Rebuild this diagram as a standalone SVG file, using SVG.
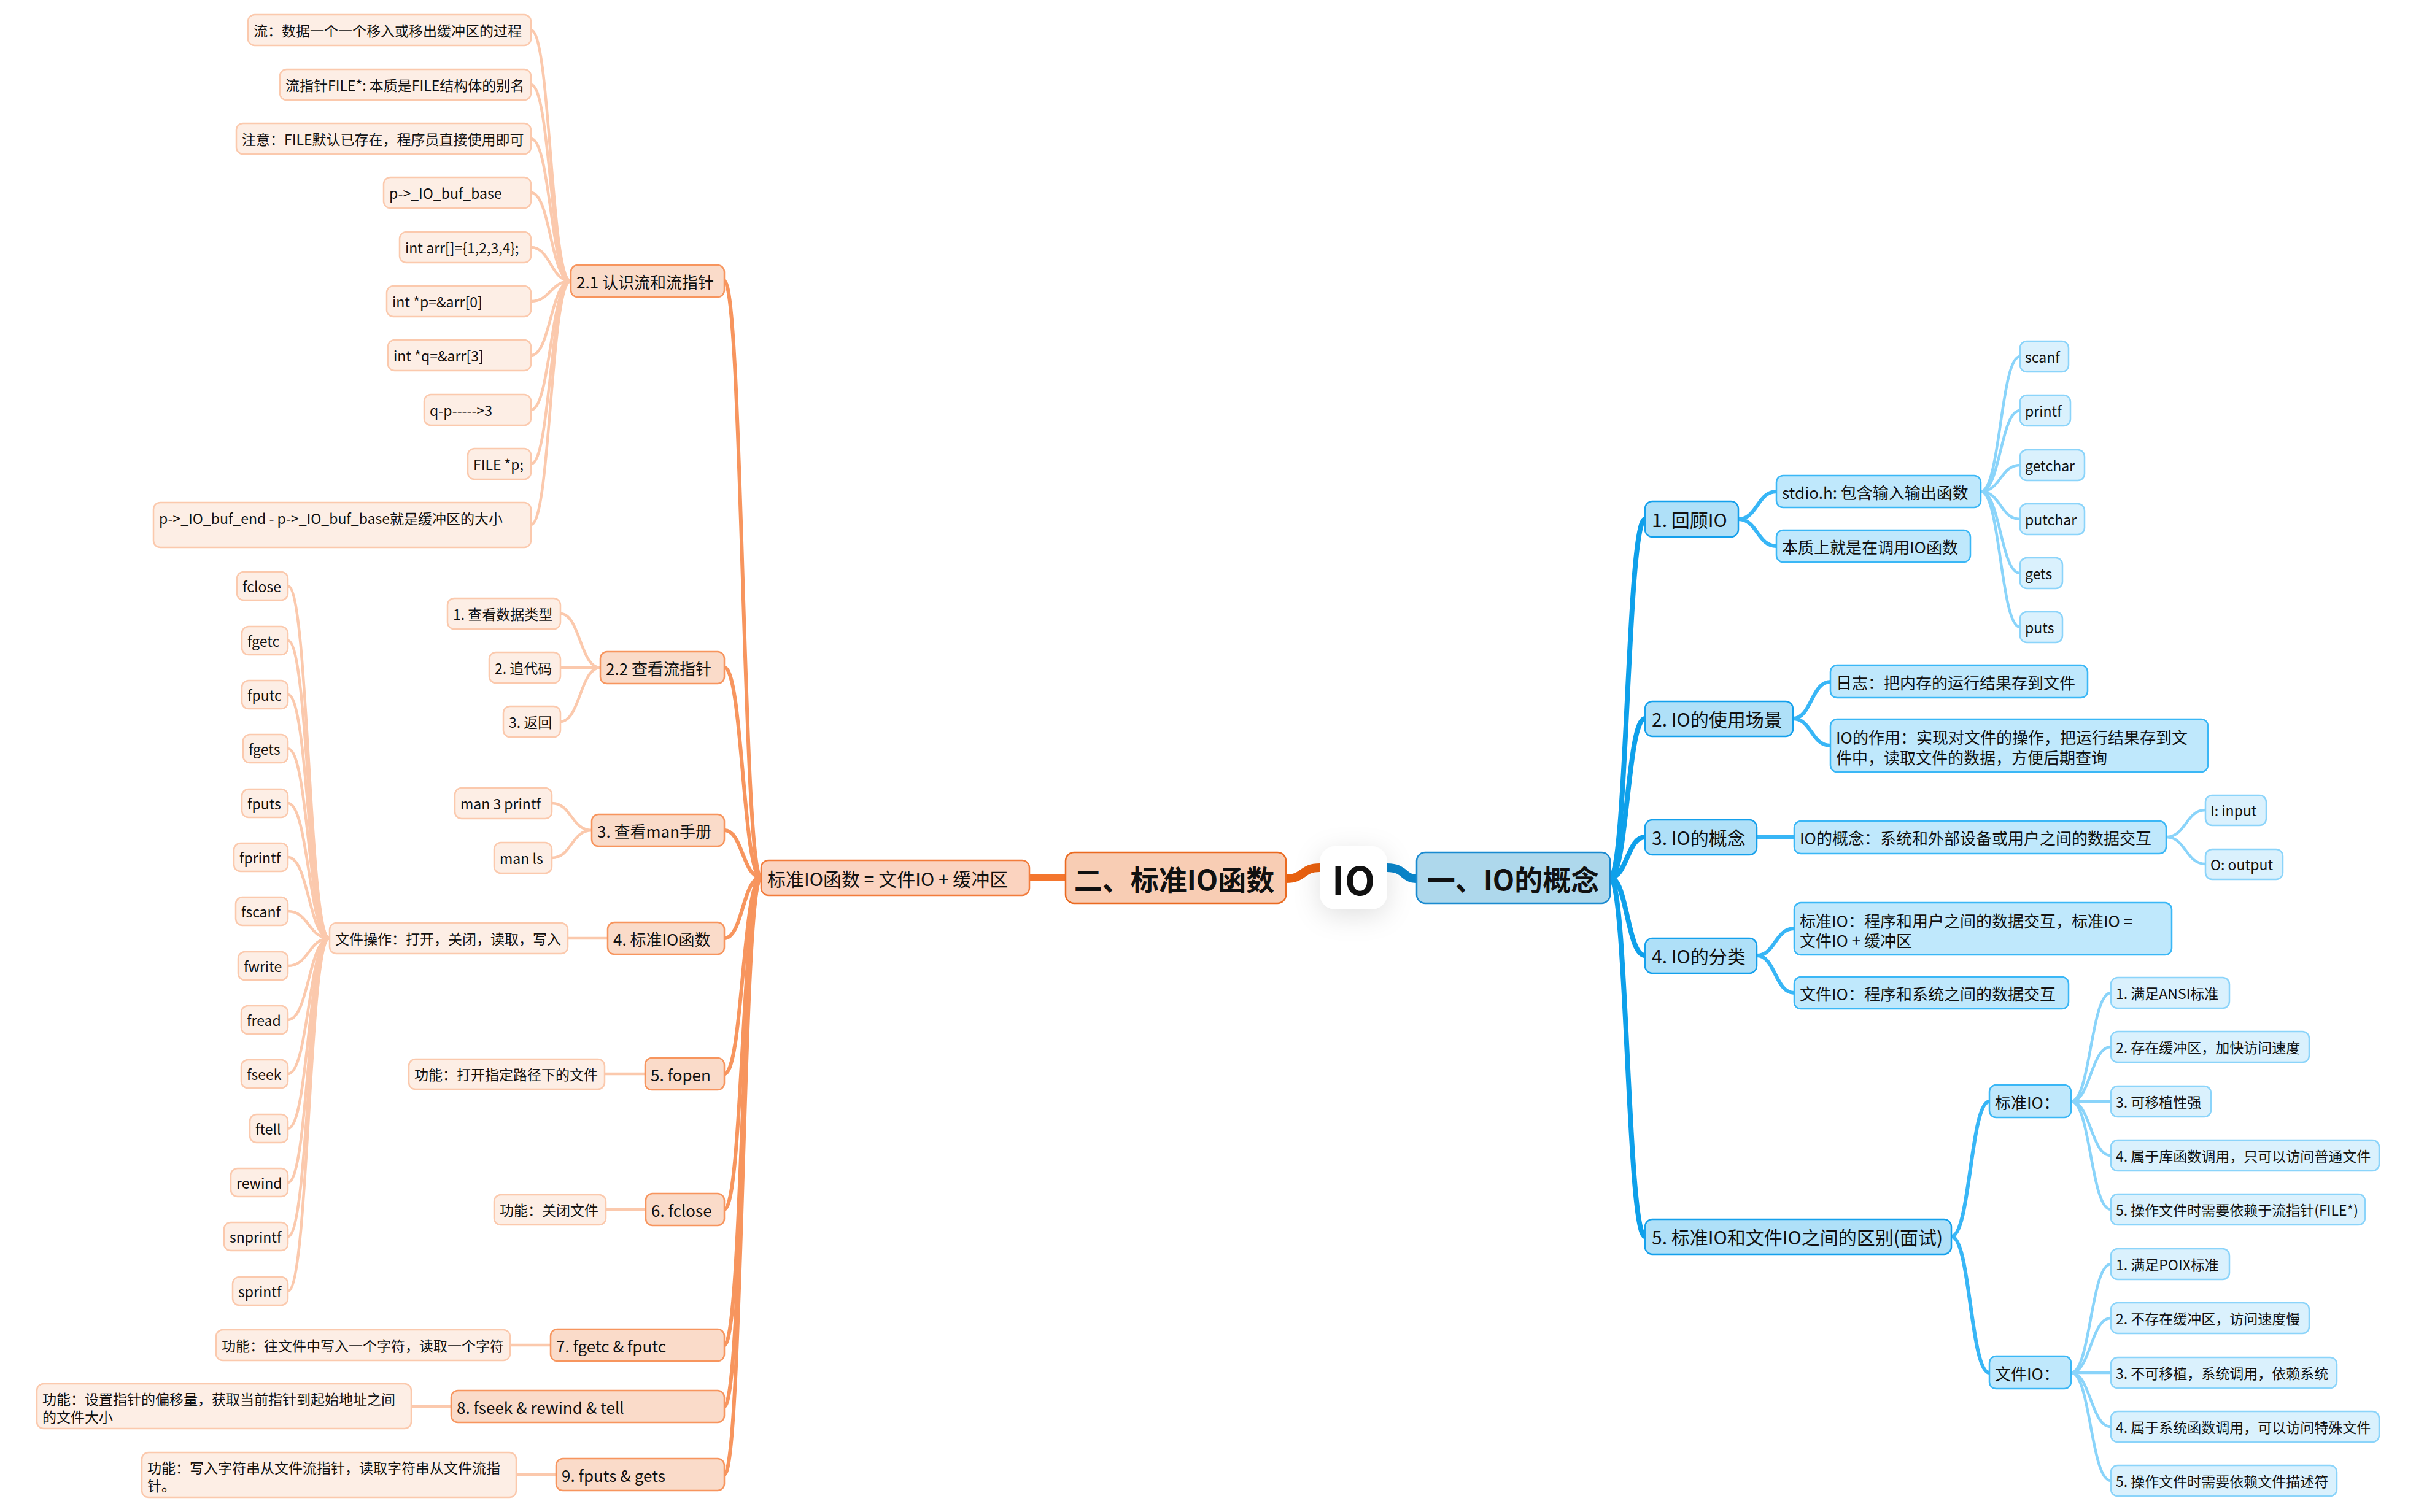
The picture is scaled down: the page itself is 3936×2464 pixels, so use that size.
<svg xmlns="http://www.w3.org/2000/svg" width="3936" height="2464" viewBox="0 0 3936 2464">
<style>
text{font-family:"Noto Sans CJK SC","Noto Sans",sans-serif;fill:#111;dominant-baseline:central}
rect{stroke-width:2.5}
.t1{font-size:46px;font-weight:bold;text-anchor:middle}
.t0{font-size:64px;font-weight:bold;text-anchor:middle}
.t2{font-size:30px}
.t3{font-size:26px}
.t4{font-size:23px}
.l1o{fill:#F8CDB4;stroke:#EA6A20}
.l1b{fill:#AED8EC;stroke:#1A8AD0}
.l2o{fill:#FBD3BF;stroke:#F27C3C}
.l3o{fill:#FADBC9;stroke:#F7955E}
.l4o{fill:#FDEEE5;stroke:#FBC9AD}
.l2b{fill:#AFE0F8;stroke:#14A0EC}
.l3b{fill:#BFE8FC;stroke:#3AB7F6}
.l4b{fill:#DAF1FD;stroke:#8BD4FA}
path{fill:none;stroke-linecap:round}
.c2o{stroke:#F7955E;stroke-width:6}
.c3o{stroke:#FBC9AD;stroke-width:4.5}
.c1b{stroke:#0EA0EA;stroke-width:8}
.c2b{stroke:#38B6F6;stroke-width:6}
.c3b{stroke:#8AD4FA;stroke-width:4.5}
</style>
<defs>
<filter id="sh" x="-100%" y="-100%" width="300%" height="300%">
<feDropShadow dx="0" dy="10" stdDeviation="22" flood-color="#000" flood-opacity="0.12"/>
</filter>
</defs>
<rect x="0" y="0" width="3936" height="2464" fill="#fff" stroke="none"/>

<g id="connectors">
<path d="M2150 1414 C2120 1414 2125 1432 2095 1432" stroke="#E8600F" stroke-width="14"/>
<path d="M2260 1414 C2290 1414 2285 1432 2308 1432" stroke="#0A84C8" stroke-width="14"/>
<path d="M1736 1430 L1677 1430" stroke="#F4762E" stroke-width="12"/>
<!-- left l2 -> l3 -->
<path class="c2o" d="M1240 1430 C1210 1430 1210 458 1180 458"/>
<path class="c2o" d="M1240 1430 C1210 1430 1210 1088 1180 1088"/>
<path class="c2o" d="M1240 1430 C1210 1430 1210 1353 1180 1353"/>
<path class="c2o" d="M1240 1430 C1210 1430 1210 1529 1180 1529"/>
<path class="c2o" d="M1240 1430 C1210 1430 1210 1750 1180 1750"/>
<path class="c2o" d="M1240 1430 C1210 1430 1210 1971 1180 1971"/>
<path class="c2o" d="M1240 1430 C1210 1430 1210 2192 1180 2192"/>
<path class="c2o" d="M1240 1430 C1210 1430 1210 2292 1180 2292"/>
<path class="c2o" d="M1240 1430 C1210 1430 1210 2403 1180 2403"/>
<!-- 2.1 leaves -->
<path class="c3o" d="M930 458 C897 458 897 49 865 49"/>
<path class="c3o" d="M930 458 C897 458 897 138 865 138"/>
<path class="c3o" d="M930 458 C897 458 897 226 865 226"/>
<path class="c3o" d="M930 458 C897 458 897 314 865 314"/>
<path class="c3o" d="M930 458 C897 458 897 403 865 403"/>
<path class="c3o" d="M930 458 C897 458 897 491 865 491"/>
<path class="c3o" d="M930 458 C897 458 897 579 865 579"/>
<path class="c3o" d="M930 458 C897 458 897 668 865 668"/>
<path class="c3o" d="M930 458 C897 458 897 756 865 756"/>
<path class="c3o" d="M930 458 C897 458 897 855 865 855"/>
<!-- 2.2 leaves -->
<path class="c3o" d="M978 1088 C945 1088 945 1000 913 1000"/>
<path class="c3o" d="M978 1088 L913 1088"/>
<path class="c3o" d="M978 1088 C945 1088 945 1176 913 1176"/>
<!-- man leaves -->
<path class="c3o" d="M964 1353 C931 1353 931 1309 899 1309"/>
<path class="c3o" d="M964 1353 C931 1353 931 1398 899 1398"/>
<!-- 4 -->
<path class="c3o" d="M990 1529 L925 1529"/>
<!-- file ops -->
<path class="c3o" d="M537 1529 C503 1529 503 955 469 955"/>
<path class="c3o" d="M537 1529 C503 1529 503 1044 469 1044"/>
<path class="c3o" d="M537 1529 C503 1529 503 1132 469 1132"/>
<path class="c3o" d="M537 1529 C503 1529 503 1220 469 1220"/>
<path class="c3o" d="M537 1529 C503 1529 503 1309 469 1309"/>
<path class="c3o" d="M537 1529 C503 1529 503 1397 469 1397"/>
<path class="c3o" d="M537 1529 C503 1529 503 1485 469 1485"/>
<path class="c3o" d="M537 1529 C503 1529 503 1574 469 1574"/>
<path class="c3o" d="M537 1529 C503 1529 503 1662 469 1662"/>
<path class="c3o" d="M537 1529 C503 1529 503 1750 469 1750"/>
<path class="c3o" d="M537 1529 C503 1529 503 1839 469 1839"/>
<path class="c3o" d="M537 1529 C503 1529 503 1927 469 1927"/>
<path class="c3o" d="M537 1529 C503 1529 503 2015 469 2015"/>
<path class="c3o" d="M537 1529 C503 1529 503 2104 469 2104"/>
<!-- 5..9 -->
<path class="c3o" d="M1051 1750 L985 1750"/>
<path class="c3o" d="M1052 1971 L987 1971"/>
<path class="c3o" d="M897 2192 L831 2192"/>
<path class="c3o" d="M735 2292 L670 2292"/>
<path class="c3o" d="M906 2403 L841 2403"/>
<!-- right l1 -> l2 -->
<path class="c1b" d="M2623 1430 C2651 1430 2651 846 2680 846"/>
<path class="c1b" d="M2623 1430 C2651 1430 2651 1171 2680 1171"/>
<path class="c1b" d="M2623 1430 C2651 1430 2651 1364 2680 1364"/>
<path class="c1b" d="M2623 1430 C2651 1430 2651 1557 2680 1557"/>
<path class="c1b" d="M2623 1430 C2651 1430 2651 2015 2680 2015"/>
<!-- right l2 -> l3 -->
<path class="c2b" d="M2832 846 C2863 846 2863 801 2894 801"/>
<path class="c2b" d="M2832 846 C2863 846 2863 890 2894 890"/>
<path class="c2b" d="M2921 1171 C2951 1171 2951 1111 2982 1111"/>
<path class="c2b" d="M2921 1171 C2951 1171 2951 1215 2982 1215"/>
<path class="c2b" d="M2862 1364 L2923 1364"/>
<path class="c2b" d="M2862 1557 C2892 1557 2892 1513 2923 1513"/>
<path class="c2b" d="M2862 1557 C2892 1557 2892 1618 2923 1618"/>
<path class="c2b" d="M3179 2015 C3210 2015 3210 1795 3241 1795"/>
<path class="c2b" d="M3179 2015 C3210 2015 3210 2237 3241 2237"/>
<!-- right l3 -> l4 -->
<path class="c3b" d="M3227 801 C3259 801 3259 581 3291 581"/>
<path class="c3b" d="M3227 801 C3259 801 3259 669 3291 669"/>
<path class="c3b" d="M3227 801 C3259 801 3259 758 3291 758"/>
<path class="c3b" d="M3227 801 C3259 801 3259 846 3291 846"/>
<path class="c3b" d="M3227 801 C3259 801 3259 934 3291 934"/>
<path class="c3b" d="M3227 801 C3259 801 3259 1022 3291 1022"/>
<path class="c3b" d="M3529 1364 C3561 1364 3561 1320 3593 1320"/>
<path class="c3b" d="M3529 1364 C3561 1364 3561 1408 3593 1408"/>
<path class="c3b" d="M3374 1795 C3406 1795 3406 1618 3439 1618"/>
<path class="c3b" d="M3374 1795 C3406 1795 3406 1706 3439 1706"/>
<path class="c3b" d="M3374 1795 L3439 1795"/>
<path class="c3b" d="M3374 1795 C3406 1795 3406 1883 3439 1883"/>
<path class="c3b" d="M3374 1795 C3406 1795 3406 1971 3439 1971"/>
<path class="c3b" d="M3374 2237 C3406 2237 3406 2060 3439 2060"/>
<path class="c3b" d="M3374 2237 C3406 2237 3406 2148 3439 2148"/>
<path class="c3b" d="M3374 2237 L3439 2237"/>
<path class="c3b" d="M3374 2237 C3406 2237 3406 2325 3439 2325"/>
<path class="c3b" d="M3374 2237 C3406 2237 3406 2413 3439 2413"/>
</g>

<!-- center -->
<g id="n-io"><rect x="2150" y="1379" width="110" height="103" rx="26" fill="#fff" stroke="none" filter="url(#sh)"/><text class="t0" x="2205" y="1431">IO</text></g>
<g id="n-left1"><rect class="l1o" x="1736" y="1389" width="359" height="83" rx="14"/><text class="t1" x="1913" y="1431">二、标准IO函数</text></g>
<g id="n-right1"><rect class="l1b" x="2308" y="1389" width="315" height="83" rx="14"/><text class="t1" x="2465" y="1431">一、IO的概念</text></g>
<g id="n-std"><rect class="l2o" x="1240" y="1402" width="437" height="57" rx="12"/><text class="t2" x="1250" y="1431">标准IO函数 = 文件IO + 缓冲区</text></g>

<!-- left level 3 -->
<g id="n-21"><rect class="l3o" x="930" y="432" width="250" height="52" rx="11"/><text class="t3" x="939" y="458">2.1 认识流和流指针</text></g>
<g id="n-22"><rect class="l3o" x="978" y="1062" width="202" height="52" rx="11"/><text class="t3" x="987" y="1088">2.2 查看流指针</text></g>
<g id="n-3man"><rect class="l3o" x="964" y="1327" width="216" height="52" rx="11"/><text class="t3" x="973" y="1353">3. 查看man手册</text></g>
<g id="n-4std"><rect class="l3o" x="990" y="1503" width="190" height="52" rx="11"/><text class="t3" x="999" y="1529">4. 标准IO函数</text></g>
<g id="n-5fopen"><rect class="l3o" x="1051" y="1724" width="129" height="52" rx="11"/><text class="t3" x="1060" y="1750">5. fopen</text></g>
<g id="n-6fclose"><rect class="l3o" x="1052" y="1945" width="128" height="52" rx="11"/><text class="t3" x="1061" y="1971">6. fclose</text></g>
<g id="n-7"><rect class="l3o" x="897" y="2166" width="283" height="52" rx="11"/><text class="t3" x="906" y="2192">7. fgetc &amp; fputc</text></g>
<g id="n-8"><rect class="l3o" x="735" y="2266" width="445" height="52" rx="11"/><text class="t3" x="744" y="2292">8. fseek &amp; rewind &amp; tell</text></g>
<g id="n-9"><rect class="l3o" x="906" y="2377" width="274" height="52" rx="11"/><text class="t3" x="915" y="2403">9. fputs &amp; gets</text></g>

<!-- 2.1 leaves -->
<g id="n-21-1"><rect class="l4o" x="404" y="24" width="461" height="50" rx="11"/><text class="t4" x="413" y="49">流：数据一个一个移入或移出缓冲区的过程</text></g>
<g id="n-21-2"><rect class="l4o" x="456" y="113" width="409" height="50" rx="11"/><text class="t4" x="465" y="138">流指针FILE*: 本质是FILE结构体的别名</text></g>
<g id="n-21-3"><rect class="l4o" x="385" y="201" width="480" height="50" rx="11"/><text class="t4" x="394" y="226">注意：FILE默认已存在，程序员直接使用即可</text></g>
<g id="n-21-4"><rect class="l4o" x="625" y="289" width="240" height="50" rx="11"/><text class="t4" x="634" y="314">p-&gt;_IO_buf_base</text></g>
<g id="n-21-5"><rect class="l4o" x="651" y="378" width="214" height="50" rx="11"/><text class="t4" x="660" y="403">int arr[]={1,2,3,4};</text></g>
<g id="n-21-6"><rect class="l4o" x="630" y="466" width="235" height="50" rx="11"/><text class="t4" x="639" y="491">int *p=&amp;arr[0]</text></g>
<g id="n-21-7"><rect class="l4o" x="632" y="554" width="233" height="50" rx="11"/><text class="t4" x="641" y="579">int *q=&amp;arr[3]</text></g>
<g id="n-21-8"><rect class="l4o" x="691" y="643" width="174" height="50" rx="11"/><text class="t4" x="700" y="668">q-p-----&gt;3</text></g>
<g id="n-21-9"><rect class="l4o" x="762" y="731" width="103" height="50" rx="11"/><text class="t4" x="771" y="756">FILE *p;</text></g>
<g id="n-21-10"><rect class="l4o" x="250" y="819" width="615" height="73" rx="11"/><text class="t4" x="259" y="844">p-&gt;_IO_buf_end - p-&gt;_IO_buf_base就是缓冲区的大小</text></g>

<!-- 2.2 leaves -->
<g id="n-22-1"><rect class="l4o" x="729" y="975" width="184" height="50" rx="11"/><text class="t4" x="738" y="1000">1. 查看数据类型</text></g>
<g id="n-22-2"><rect class="l4o" x="797" y="1063" width="116" height="50" rx="11"/><text class="t4" x="806" y="1088">2. 追代码</text></g>
<g id="n-22-3"><rect class="l4o" x="820" y="1151" width="93" height="50" rx="11"/><text class="t4" x="829" y="1176">3. 返回</text></g>
<!-- man leaves -->
<g id="n-man-1"><rect class="l4o" x="741" y="1284" width="158" height="50" rx="11"/><text class="t4" x="750" y="1309">man 3 printf</text></g>
<g id="n-man-2"><rect class="l4o" x="805" y="1373" width="94" height="50" rx="11"/><text class="t4" x="814" y="1398">man ls</text></g>
<!-- file ops -->
<g id="n-fileops"><rect class="l4o" x="537" y="1504" width="388" height="50" rx="11"/><text class="t4" x="546" y="1529">文件操作：打开，关闭，读取，写入</text></g>
<g id="f-fclose"><rect class="l4o" x="386" y="932" width="83" height="46" rx="11"/><text class="t4" x="395" y="955">fclose</text></g>
<g id="f-fgetc"><rect class="l4o" x="394" y="1021" width="75" height="46" rx="11"/><text class="t4" x="403" y="1044">fgetc</text></g>
<g id="f-fputc"><rect class="l4o" x="394" y="1109" width="75" height="46" rx="11"/><text class="t4" x="403" y="1132">fputc</text></g>
<g id="f-fgets"><rect class="l4o" x="396" y="1197" width="73" height="46" rx="11"/><text class="t4" x="405" y="1220">fgets</text></g>
<g id="f-fputs"><rect class="l4o" x="394" y="1286" width="75" height="46" rx="11"/><text class="t4" x="403" y="1309">fputs</text></g>
<g id="f-fprintf"><rect class="l4o" x="381" y="1374" width="88" height="46" rx="11"/><text class="t4" x="390" y="1397">fprintf</text></g>
<g id="f-fscanf"><rect class="l4o" x="384" y="1462" width="85" height="46" rx="11"/><text class="t4" x="393" y="1485">fscanf</text></g>
<g id="f-fwrite"><rect class="l4o" x="388" y="1551" width="81" height="46" rx="11"/><text class="t4" x="397" y="1574">fwrite</text></g>
<g id="f-fread"><rect class="l4o" x="393" y="1639" width="76" height="46" rx="11"/><text class="t4" x="402" y="1662">fread</text></g>
<g id="f-fseek"><rect class="l4o" x="393" y="1727" width="76" height="46" rx="11"/><text class="t4" x="402" y="1750">fseek</text></g>
<g id="f-ftell"><rect class="l4o" x="407" y="1816" width="62" height="46" rx="11"/><text class="t4" x="416" y="1839">ftell</text></g>
<g id="f-rewind"><rect class="l4o" x="376" y="1904" width="93" height="46" rx="11"/><text class="t4" x="385" y="1927">rewind</text></g>
<g id="f-snprintf"><rect class="l4o" x="365" y="1992" width="104" height="46" rx="11"/><text class="t4" x="374" y="2015">snprintf</text></g>
<g id="f-sprintf"><rect class="l4o" x="379" y="2081" width="90" height="46" rx="11"/><text class="t4" x="388" y="2104">sprintf</text></g>
<!-- 5..9 leaves -->
<g id="n-5-1"><rect class="l4o" x="666" y="1726" width="319" height="49" rx="11"/><text class="t4" x="675" y="1750">功能：打开指定路径下的文件</text></g>
<g id="n-6-1"><rect class="l4o" x="805" y="1947" width="182" height="49" rx="11"/><text class="t4" x="814" y="1971">功能：关闭文件</text></g>
<g id="n-7-1"><rect class="l4o" x="352" y="2167" width="479" height="50" rx="11"/><text class="t4" x="361" y="2192">功能：往文件中写入一个字符，读取一个字符</text></g>
<g id="n-8-1"><rect class="l4o" x="60" y="2255" width="610" height="73" rx="11"/><text class="t4" x="69" y="2279">功能：设置指针的偏移量，获取当前指针到起始地址之间</text><text class="t4" x="69" y="2308">的文件大小</text></g>
<g id="n-9-1"><rect class="l4o" x="231" y="2367" width="610" height="73" rx="11"/><text class="t4" x="240" y="2391">功能：写入字符串从文件流指针，读取字符串从文件流指</text><text class="t4" x="240" y="2420">针。</text></g>

<!-- right level 2 -->
<g id="r-1"><rect class="l2b" x="2680" y="817" width="152" height="58" rx="12"/><text class="t2" x="2691" y="846">1. 回顾IO</text></g>
<g id="r-2"><rect class="l2b" x="2680" y="1143" width="241" height="57" rx="12"/><text class="t2" x="2691" y="1171">2. IO的使用场景</text></g>
<g id="r-3"><rect class="l2b" x="2680" y="1336" width="182" height="57" rx="12"/><text class="t2" x="2691" y="1364">3. IO的概念</text></g>
<g id="r-4"><rect class="l2b" x="2680" y="1529" width="182" height="57" rx="12"/><text class="t2" x="2691" y="1557">4. IO的分类</text></g>
<g id="r-5"><rect class="l2b" x="2680" y="1987" width="499" height="57" rx="12"/><text class="t2" x="2691" y="2015">5. 标准IO和文件IO之间的区别(面试)</text></g>
<!-- right level 3 -->
<g id="r-1-1"><rect class="l3b" x="2894" y="775" width="333" height="52" rx="11"/><text class="t3" x="2903" y="801">stdio.h: 包含输入输出函数</text></g>
<g id="r-1-2"><rect class="l3b" x="2894" y="864" width="316" height="52" rx="11"/><text class="t3" x="2903" y="890">本质上就是在调用IO函数</text></g>
<g id="r-2-1"><rect class="l3b" x="2982" y="1084" width="419" height="53" rx="11"/><text class="t3" x="2991" y="1111">日志：把内存的运行结果存到文件</text></g>
<g id="r-2-2"><rect class="l3b" x="2982" y="1172" width="615" height="86" rx="11"/><text class="t3" x="2991" y="1200">IO的作用：实现对文件的操作，把运行结果存到文</text><text class="t3" x="2991" y="1233">件中，读取文件的数据，方便后期查询</text></g>
<g id="r-3-1"><rect class="l3b" x="2923" y="1338" width="606" height="53" rx="11"/><text class="t3" x="2932" y="1364">IO的概念：系统和外部设备或用户之间的数据交互</text></g>
<g id="r-4-1"><rect class="l3b" x="2923" y="1471" width="615" height="85" rx="11"/><text class="t3" x="2932" y="1499">标准IO：程序和用户之间的数据交互，标准IO =</text><text class="t3" x="2932" y="1531">文件IO + 缓冲区</text></g>
<g id="r-4-2"><rect class="l3b" x="2923" y="1592" width="447" height="52" rx="11"/><text class="t3" x="2932" y="1618">文件IO：程序和系统之间的数据交互</text></g>
<g id="r-5-1"><rect class="l3b" x="3241" y="1768" width="133" height="53" rx="11"/><text class="t3" x="3250" y="1795">标准IO：</text></g>
<g id="r-5-2"><rect class="l3b" x="3241" y="2210" width="133" height="53" rx="11"/><text class="t3" x="3250" y="2237">文件IO：</text></g>
<!-- right level 4 -->
<g id="r-scanf"><rect class="l4b" x="3291" y="556" width="79" height="50" rx="11"/><text class="t4" x="3299" y="581">scanf</text></g>
<g id="r-printf"><rect class="l4b" x="3291" y="644" width="82" height="50" rx="11"/><text class="t4" x="3299" y="669">printf</text></g>
<g id="r-getchar"><rect class="l4b" x="3291" y="733" width="105" height="50" rx="11"/><text class="t4" x="3299" y="758">getchar</text></g>
<g id="r-putchar"><rect class="l4b" x="3291" y="821" width="105" height="50" rx="11"/><text class="t4" x="3299" y="846">putchar</text></g>
<g id="r-gets"><rect class="l4b" x="3291" y="909" width="69" height="50" rx="11"/><text class="t4" x="3299" y="934">gets</text></g>
<g id="r-puts"><rect class="l4b" x="3291" y="997" width="69" height="50" rx="11"/><text class="t4" x="3299" y="1022">puts</text></g>
<g id="r-input"><rect class="l4b" x="3593" y="1296" width="99" height="49" rx="11"/><text class="t4" x="3601" y="1320">I: input</text></g>
<g id="r-output"><rect class="l4b" x="3593" y="1384" width="126" height="49" rx="11"/><text class="t4" x="3601" y="1408">O: output</text></g>
<g id="r-s1"><rect class="l4b" x="3439" y="1593" width="193" height="50" rx="11"/><text class="t4" x="3447" y="1618">1. 满足ANSI标准</text></g>
<g id="r-s2"><rect class="l4b" x="3439" y="1681" width="323" height="50" rx="11"/><text class="t4" x="3447" y="1706">2. 存在缓冲区，加快访问速度</text></g>
<g id="r-s3"><rect class="l4b" x="3439" y="1770" width="163" height="50" rx="11"/><text class="t4" x="3447" y="1795">3. 可移植性强</text></g>
<g id="r-s4"><rect class="l4b" x="3439" y="1858" width="437" height="50" rx="11"/><text class="t4" x="3447" y="1883">4. 属于库函数调用，只可以访问普通文件</text></g>
<g id="r-s5"><rect class="l4b" x="3439" y="1946" width="414" height="50" rx="11"/><text class="t4" x="3447" y="1971">5. 操作文件时需要依赖于流指针(FILE*)</text></g>
<g id="r-f1"><rect class="l4b" x="3439" y="2035" width="193" height="50" rx="11"/><text class="t4" x="3447" y="2060">1. 满足POIX标准</text></g>
<g id="r-f2"><rect class="l4b" x="3439" y="2123" width="323" height="50" rx="11"/><text class="t4" x="3447" y="2148">2. 不存在缓冲区，访问速度慢</text></g>
<g id="r-f3"><rect class="l4b" x="3439" y="2212" width="368" height="50" rx="11"/><text class="t4" x="3447" y="2237">3. 不可移植，系统调用，依赖系统</text></g>
<g id="r-f4"><rect class="l4b" x="3439" y="2300" width="437" height="50" rx="11"/><text class="t4" x="3447" y="2325">4. 属于系统函数调用，可以访问特殊文件</text></g>
<g id="r-f5"><rect class="l4b" x="3439" y="2388" width="368" height="50" rx="11"/><text class="t4" x="3447" y="2413">5. 操作文件时需要依赖文件描述符</text></g>
</svg>
